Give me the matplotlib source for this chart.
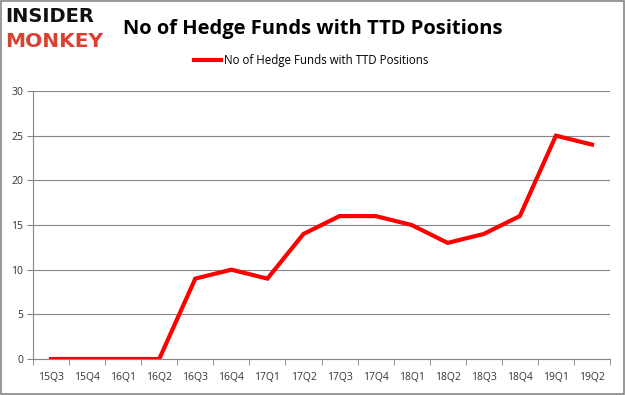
import matplotlib.pyplot as plt
from matplotlib.patches import Rectangle

quarters = ['15Q3', '15Q4', '16Q1', '16Q2', '16Q3', '16Q4', '17Q1', '17Q2',
            '17Q3', '17Q4', '18Q1', '18Q2', '18Q3', '18Q4', '19Q1', '19Q2']
funds = [0, 0, 0, 0, 9, 10, 9, 14, 16, 16, 15, 13, 14, 16, 25, 24]
series_name = 'No of Hedge Funds with TTD Positions'
y_ticks = [0, 5, 10, 15, 20, 25, 30]

plt.rcParams['font.family'] = ['Open Sans', 'DejaVu Sans']

fig = plt.figure(figsize=(6.25, 3.95), dpi=100)
ax = fig.add_axes([0.0528, 0.0911, 0.9232, 0.6785])

x = list(range(len(quarters)))
line, = ax.plot(x, funds, color='#ff0000', linewidth=3, solid_joinstyle='miter')
ax.set_xlim(-0.5, len(quarters) - 0.5)
ax.set_ylim(0, 30)
ax.set_yticks(y_ticks)
ax.set_xticks(x)
ax.set_xticklabels(quarters)
ax.set_xticks([i - 0.5 for i in range(len(quarters) + 1)], minor=True)
ax.tick_params(axis='x', which='major', length=0, pad=9, labelsize=7.5, labelcolor='#333333')
ax.tick_params(axis='x', which='minor', length=4, color='#868686')
ax.tick_params(axis='y', length=4, color='#868686', labelsize=7.5, pad=3, labelcolor='#333333')
ax.grid(axis='y', color='#868686', linewidth=0.8)
ax.set_axisbelow(True)
for side in ['top', 'right']:
    ax.spines[side].set_visible(False)
for side in ['left', 'bottom']:
    ax.spines[side].set_color('#868686')

# legend
fig.legend([line], [series_name], loc='center', bbox_to_anchor=(0.498, 0.846),
           frameon=False, fontsize=8.3, handlelength=2.3, handletextpad=0.3)

# title and logo
fig.text(0.197, 0.926, series_name, fontsize=14.5, fontweight='bold', va='center', ha='left')
fig.text(0.008, 0.959, 'INSIDER', fontsize=14, fontweight='black', va='center', ha='left',
         color='#111111', family='DejaVu Sans')
fig.text(0.008, 0.894, 'MONKEY', fontsize=14.5, fontweight='black', va='center', ha='left',
         color='#d9412e', family='DejaVu Sans')

fig.patches.append(Rectangle((0.0015, 0.002), 0.997, 0.996, transform=fig.transFigure,
                             fill=False, edgecolor='#868686', linewidth=1.2))

fig.savefig('out.png', dpi=100)
